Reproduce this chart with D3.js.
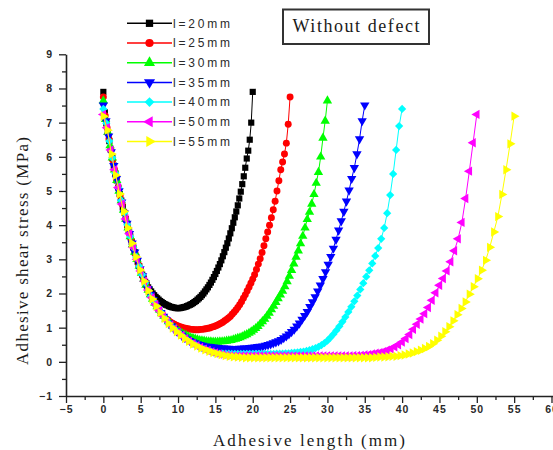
<!DOCTYPE html>
<html>
<head>
<meta charset="utf-8">
<script src="https://cdn.jsdelivr.net/npm/d3@7"></script>
<style>
  html, body { margin: 0; padding: 0; background: #fff; }
  svg { display: block; }
</style>
</head>
<body>
<svg id="chart" width="553" height="450"></svg>
<script>
// Adhesive shear stress along the bond line for several overlap lengths (no defect)
const overlapLengths = [20, 25, 30, 35, 40, 50, 55];
const legendLabels = ["l=20mm", "l=25mm", "l=30mm", "l=35mm", "l=40mm", "l=50mm", "l=55mm"];
const seriesColors = ["#000000", "#ff0000", "#00ff00", "#0000ff", "#00ffff", "#ff00ff", "#ffff00"];
const xTickValues = [-5, 0, 5, 10, 15, 20, 25, 30, 35, 40, 45, 50, 55, 60];
const yTickValues = [-1, 0, 1, 2, 3, 4, 5, 6, 7, 8, 9];

// stress (MPa), 101 equally spaced points from x = 0 to x = l
const stress20 = [
  7.9,7.3,6.98,6.72,6.46,6.2,5.97,5.74,5.52,5.31,
  5.1,4.91,4.72,4.53,4.36,4.18,4.01,3.84,3.67,3.51,
  3.35,3.21,3.07,2.93,2.8,2.67,2.55,2.44,2.34,2.26,
  2.18,2.12,2.06,2.0,1.95,1.9,1.86,1.82,1.78,1.75,
  1.72,1.69,1.67,1.65,1.63,1.61,1.6,1.59,1.58,1.57,
  1.57,
  1.57,1.58,1.59,1.6,1.61,1.63,1.65,1.67,1.69,1.72,
  1.75,1.78,1.82,1.86,1.9,1.95,2.0,2.06,2.12,2.18,
  2.25,2.32,2.4,2.48,2.57,2.66,2.76,2.86,2.97,3.09,
  3.21,3.34,3.47,3.61,3.76,3.91,4.07,4.23,4.4,4.58,
  4.78,4.98,5.2,5.43,5.68,5.95,6.18,6.5,7.0,7.9
];
const stress25 = [
  7.75,7.2,6.85,6.52,6.2,5.91,5.62,5.36,5.1,4.86,
  4.62,4.4,4.18,3.96,3.75,3.55,3.35,3.17,3.0,2.83,
  2.66,2.51,2.36,2.23,2.1,1.99,1.88,1.78,1.68,1.59,
  1.5,1.42,1.35,1.29,1.24,1.2,1.16,1.13,1.1,1.07,
  1.05,1.03,1.01,0.99,0.98,0.97,0.96,0.95,0.95,0.94,
  0.94,
  0.94,0.95,0.95,0.96,0.97,0.98,0.99,1.01,1.03,1.05,
  1.07,1.1,1.13,1.16,1.2,1.24,1.28,1.33,1.39,1.45,
  1.52,1.59,1.67,1.76,1.86,1.96,2.07,2.18,2.3,2.42,
  2.55,2.7,2.86,3.02,3.2,3.4,3.6,3.8,4.0,4.22,
  4.45,4.7,5.0,5.3,5.62,5.85,6.08,6.4,6.95,7.75
];
const stress30 = [
  7.64,7.1,6.72,6.33,5.97,5.62,5.31,5.0,4.72,4.44,
  4.18,3.92,3.67,3.43,3.21,3.0,2.8,2.6,2.42,2.25,
  2.1,1.97,1.84,1.72,1.62,1.52,1.43,1.34,1.25,1.18,
  1.11,1.04,0.98,0.93,0.88,0.84,0.8,0.77,0.74,0.71,
  0.69,0.67,0.65,0.63,0.62,0.61,0.6,0.59,0.59,0.58,
  0.58,
  0.58,0.59,0.59,0.6,0.61,0.62,0.63,0.65,0.67,0.69,
  0.71,0.74,0.77,0.8,0.84,0.88,0.93,0.98,1.04,1.11,
  1.18,1.25,1.34,1.43,1.53,1.63,1.74,1.85,1.96,2.07,
  2.2,2.35,2.51,2.68,2.87,3.07,3.25,3.46,3.68,3.92,
  4.17,4.38,4.62,4.9,5.23,5.55,6.0,6.55,7.05,7.64
];
const stress35 = [
  7.51,7.05,6.6,6.14,5.74,5.36,5.0,4.67,4.35,4.05,
  3.75,3.47,3.21,2.97,2.72,2.51,2.31,2.13,1.97,1.82,
  1.68,1.55,1.44,1.33,1.23,1.13,1.05,0.97,0.9,0.83,
  0.77,0.71,0.66,0.62,0.58,0.55,0.52,0.5,0.48,0.46,
  0.45,0.44,0.43,0.42,0.41,0.4,0.4,0.39,0.39,0.38,
  0.38,
  0.38,0.39,0.39,0.4,0.4,0.41,0.42,0.43,0.44,0.45,
  0.46,0.48,0.5,0.52,0.55,0.58,0.61,0.65,0.7,0.75,
  0.81,0.88,0.95,1.04,1.13,1.24,1.35,1.47,1.61,1.75,
  1.9,2.07,2.24,2.43,2.63,2.85,3.08,3.32,3.58,3.85,
  4.12,4.4,4.7,5.02,5.36,5.68,6.08,6.52,7.05,7.51
];
const stress40 = [
  7.4,6.98,6.46,5.97,5.52,5.1,4.72,4.36,4.01,3.67,
  3.35,3.07,2.8,2.55,2.31,2.1,1.92,1.76,1.61,1.47,
  1.34,1.23,1.12,1.02,0.94,0.86,0.79,0.71,0.65,0.59,
  0.53,0.49,0.44,0.4,0.37,0.33,0.3,0.27,0.25,0.24,
  0.24,0.24,0.24,0.23,0.23,0.23,0.23,0.23,0.23,0.23,
  0.23,
  0.23,0.23,0.23,0.23,0.23,0.23,0.23,0.24,0.24,0.24,
  0.25,0.25,0.26,0.27,0.28,0.29,0.3,0.32,0.34,0.37,
  0.4,0.44,0.49,0.55,0.62,0.71,0.81,0.92,1.04,1.17,
  1.31,1.46,1.61,1.77,1.94,2.12,2.3,2.49,2.68,2.88,
  3.1,3.33,3.6,3.92,4.35,4.88,5.5,6.2,6.9,7.4
];
const stress50 = [
  7.24,6.85,6.2,5.62,5.1,4.62,4.18,3.75,3.35,3.0,
  2.66,2.36,2.1,1.88,1.68,1.5,1.34,1.2,1.07,0.96,
  0.86,0.77,0.68,0.6,0.53,0.47,0.42,0.37,0.33,0.29,
  0.26,0.23,0.21,0.19,0.18,0.17,0.17,0.17,0.17,0.17,
  0.17,0.17,0.17,0.17,0.17,0.17,0.17,0.17,0.17,0.17,
  0.17,
  0.17,0.17,0.17,0.17,0.17,0.17,0.17,0.17,0.17,0.17,
  0.17,0.17,0.17,0.17,0.17,0.17,0.18,0.18,0.19,0.2,
  0.21,0.23,0.25,0.27,0.3,0.34,0.38,0.44,0.5,0.58,
  0.68,0.8,0.95,1.1,1.25,1.41,1.59,1.8,2.02,2.24,
  2.44,2.66,2.93,3.25,3.6,4.08,4.78,5.58,6.41,7.24
];
const stress55 = [
  7.19,6.78,6.08,5.46,4.91,4.4,3.92,3.47,3.07,2.69,
  2.36,2.08,1.84,1.63,1.44,1.27,1.12,0.99,0.88,0.78,
  0.68,0.6,0.52,0.46,0.4,0.35,0.31,0.27,0.24,0.21,
  0.18,0.16,0.15,0.14,0.13,0.12,0.12,0.12,0.12,0.12,
  0.12,0.12,0.12,0.12,0.12,0.12,0.12,0.12,0.12,0.12,
  0.12,
  0.12,0.12,0.12,0.12,0.12,0.12,0.12,0.12,0.12,0.12,
  0.12,0.12,0.12,0.12,0.12,0.12,0.13,0.14,0.14,0.15,
  0.16,0.16,0.18,0.2,0.23,0.26,0.3,0.34,0.39,0.45,
  0.53,0.63,0.75,0.88,1.03,1.2,1.38,1.56,1.75,1.98,
  2.2,2.43,2.68,2.97,3.35,3.8,4.25,4.9,5.62,6.38,7.19
];
const stressSeries = [stress20, stress25, stress30, stress35, stress40, stress50, stress55];

// marker shapes: square, circle, up / down triangles, diamond, left / right triangles
const markerDefs = [
  { type: d3.symbolSquare, size: 38, rotate: 0 },
  { type: d3.symbolCircle, size: 38, rotate: 0 },
  { type: d3.symbolTriangle, size: 38, rotate: 0 },
  { type: d3.symbolTriangle, size: 38, rotate: 180 },
  { type: d3.symbolSquare, size: 34, rotate: 45 },
  { type: d3.symbolTriangle, size: 38, rotate: -90 },
  { type: d3.symbolTriangle, size: 38, rotate: 90 }
];

const svg = d3.select("#chart");
const x = d3.scaleLinear().domain([-5, 60]).range([66, 551.5]);
const y = d3.scaleLinear().domain([-1, 9]).range([396, 54.3]);

const axisColor = "#222";
const tickFont = "'Liberation Sans', Arial, sans-serif";
const serifFont = "'Liberation Serif', 'Times New Roman', serif";

// bottom axis: major + minor ticks
const xMinor = d3.range(-2.5, 60, 5);
svg.append("g")
  .attr("transform", `translate(0,${y(-1)})`)
  .call(d3.axisBottom(x).tickValues(xMinor).tickSize(4).tickFormat(""))
  .call(g => g.select(".domain").remove());
const xAxis = svg.append("g")
  .attr("transform", `translate(0,${y(-1)})`)
  .call(d3.axisBottom(x).tickValues(xTickValues).tickSize(7).tickSizeOuter(0).tickPadding(3));
xAxis.select(".domain").attr("d", `M66,0.5H553`);

// left axis: major + minor ticks
const yMinor = d3.range(-0.5, 9, 1);
svg.append("g")
  .attr("transform", `translate(${x(-5)},0)`)
  .call(d3.axisLeft(y).tickValues(yMinor).tickSize(4).tickFormat(""))
  .call(g => g.select(".domain").remove());
svg.append("g")
  .attr("transform", `translate(${x(-5)},0)`)
  .call(d3.axisLeft(y).tickValues(yTickValues).tickSize(7).tickSizeOuter(0).tickPadding(6));

svg.selectAll(".tick line").attr("stroke", axisColor).attr("stroke-width", 1.3);
svg.selectAll(".domain").attr("stroke", axisColor).attr("stroke-width", 1.6);
svg.selectAll(".tick text")
  .attr("fill", "#2a2a2a")
  .style("font-family", tickFont)
  .style("font-size", "10.5px")
  .style("font-weight", "bold")
  .style("letter-spacing", "1px");

// curves: thin connecting line plus a marker at every point
const lineGen = d3.line().x(d => x(d[0])).y(d => y(d[1]));

stressSeries.forEach((vals, si) => {
  const L = overlapLengths[si];
  const pts = vals.map((v, i) => [i * L / (vals.length - 1), v]);
  const g = svg.append("g");
  g.append("path")
    .datum(pts)
    .attr("d", lineGen)
    .attr("fill", "none")
    .attr("stroke", seriesColors[si])
    .attr("stroke-width", 1);
  const def = markerDefs[si];
  const p = d3.symbol().type(def.type).size(def.size)();
  g.selectAll("path.m")
    .data(pts)
    .join("path")
    .attr("class", "m")
    .attr("d", p)
    .attr("transform", d => `translate(${x(d[0])},${y(d[1])}) rotate(${def.rotate})`)
    .attr("fill", seriesColors[si]);
});

// legend
const legend = svg.append("g");
legendLabels.forEach((lab, i) => {
  const ry = 23.3 + i * 19.7;
  legend.append("line")
    .attr("x1", 127).attr("x2", 172).attr("y1", ry).attr("y2", ry)
    .attr("stroke", seriesColors[i]).attr("stroke-width", 1.5);
  const def = markerDefs[i];
  legend.append("path")
    .attr("d", d3.symbol().type(def.type).size(def.size * 1.4)())
    .attr("transform", `translate(149.5,${ry}) rotate(${def.rotate})`)
    .attr("fill", seriesColors[i]);
  legend.append("text")
    .attr("x", 173).attr("y", ry + 4.2)
    .attr("textLength", 57).attr("lengthAdjust", "spacing")
    .attr("fill", "#2a2a2a")
    .style("font-family", tickFont)
    .style("font-size", "12px")
    .text(lab);
});

// title box
svg.append("rect")
  .attr("x", 283).attr("y", 9.5).attr("width", 146).attr("height", 34.5)
  .attr("fill", "#fff").attr("stroke", "#333").attr("stroke-width", 2);
svg.append("text")
  .attr("x", 356).attr("y", 32)
  .attr("text-anchor", "middle")
  .attr("textLength", 127).attr("lengthAdjust", "spacing")
  .attr("fill", "#1a1a1a")
  .style("font-family", serifFont)
  .style("font-size", "18px")
  .text("Without defect");

// axis titles
svg.append("text")
  .attr("x", 309).attr("y", 446)
  .attr("text-anchor", "middle")
  .attr("textLength", 192).attr("lengthAdjust", "spacing")
  .attr("fill", "#1a1a1a")
  .style("font-family", serifFont)
  .style("font-size", "17px")
  .text("Adhesive length (mm)");
svg.append("text")
  .attr("transform", "translate(28,251) rotate(-90)")
  .attr("text-anchor", "middle")
  .attr("textLength", 228).attr("lengthAdjust", "spacing")
  .attr("fill", "#1a1a1a")
  .style("font-family", serifFont)
  .style("font-size", "17px")
  .text("Adhesive shear stress (MPa)");
</script>
</body>
</html>
